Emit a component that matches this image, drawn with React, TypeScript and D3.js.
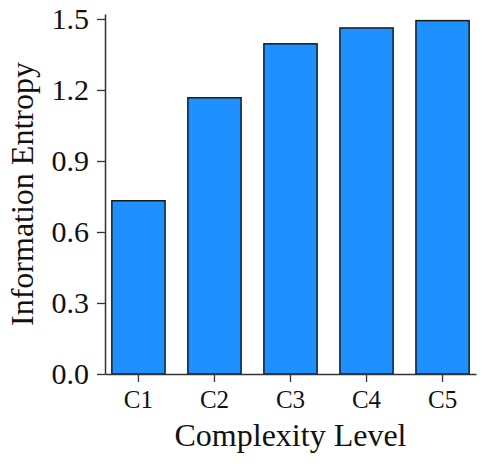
import React, { useEffect, useRef } from 'react';
import * as d3 from 'd3';

const categories = ['C1', 'C2', 'C3', 'C4', 'C5'];
const entropy = [0.732, 1.167, 1.395, 1.462, 1.493];
const yTicks = [0.0, 0.3, 0.6, 0.9, 1.2, 1.5];

const W = 485;
const H = 464;
const margin = { top: 14, right: 9, bottom: 90, left: 105 };
const FONT = '"Liberation Serif", "Times New Roman", serif';
const AXIS = '#333333';

const App = () => {
  const svgRef = useRef<SVGSVGElement>(null);

  useEffect(() => {
    const svg = d3.select(svgRef.current);
    svg.selectAll('*').remove();

    const x0 = margin.left;
    const x1 = W - margin.right;
    const y0 = H - margin.bottom;
    const y1 = margin.top;

    const xScale = d3
      .scaleBand()
      .domain(categories)
      .range([x0, x1])
      .paddingInner(0.3)
      .paddingOuter(0.09);

    const yScale = d3.scaleLinear().domain([0, 1.521]).range([y0, y1]);

    // bars
    svg
      .selectAll('.bar')
      .data(categories)
      .enter()
      .append('rect')
      .attr('class', 'bar')
      .attr('x', d => xScale(d))
      .attr('y', (d, i) => yScale(entropy[i]))
      .attr('width', xScale.bandwidth())
      .attr('height', (d, i) => y0 - yScale(entropy[i]))
      .attr('fill', '#1E90FF')
      .attr('stroke', '#1a1a1a')
      .attr('stroke-width', 1.5);

    // x axis
    const gx = svg
      .append('g')
      .attr('transform', `translate(0,${y0})`)
      .call(d3.axisBottom(xScale).tickSize(8).tickPadding(8).tickSizeOuter(0));
    gx.select('.domain').attr('stroke', AXIS).attr('stroke-width', 1.5);
    gx.selectAll('.tick line').attr('stroke', AXIS).attr('stroke-width', 1.3);
    gx.selectAll('.tick text')
      .attr('fill', '#111')
      .attr('font-family', FONT)
      .attr('font-size', 25);

    // y axis
    const gy = svg
      .append('g')
      .attr('transform', `translate(${x0},0)`)
      .call(
        d3
          .axisLeft(yScale)
          .tickValues(yTicks)
          .tickFormat(d3.format('.1f'))
          .tickSize(8)
          .tickPadding(8)
          .tickSizeOuter(0)
      );
    gy.select('.domain').attr('stroke', AXIS).attr('stroke-width', 1.5);
    gy.selectAll('.tick line').attr('stroke', AXIS).attr('stroke-width', 1.3);
    gy.selectAll('.tick text')
      .attr('fill', '#111')
      .attr('font-family', FONT)
      .attr('font-size', 30);

    // axis labels
    svg
      .append('text')
      .attr('x', (x0 + x1) / 2)
      .attr('y', 446)
      .attr('text-anchor', 'middle')
      .attr('font-family', FONT)
      .attr('font-size', 32)
      .attr('fill', '#111')
      .text('Complexity Level');

    svg
      .append('text')
      .attr('transform', `translate(33,${(y0 + y1) / 2}) rotate(-90)`)
      .attr('text-anchor', 'middle')
      .attr('font-family', FONT)
      .attr('font-size', 32)
      .attr('fill', '#111')
      .text('Information Entropy');
  }, []);

  return (
    <div style={{ position: 'absolute', left: 0, top: 0 }}>
      <svg ref={svgRef} width={W} height={H} style={{ display: 'block', background: '#fff' }}></svg>
    </div>
  );
};

export default App;
